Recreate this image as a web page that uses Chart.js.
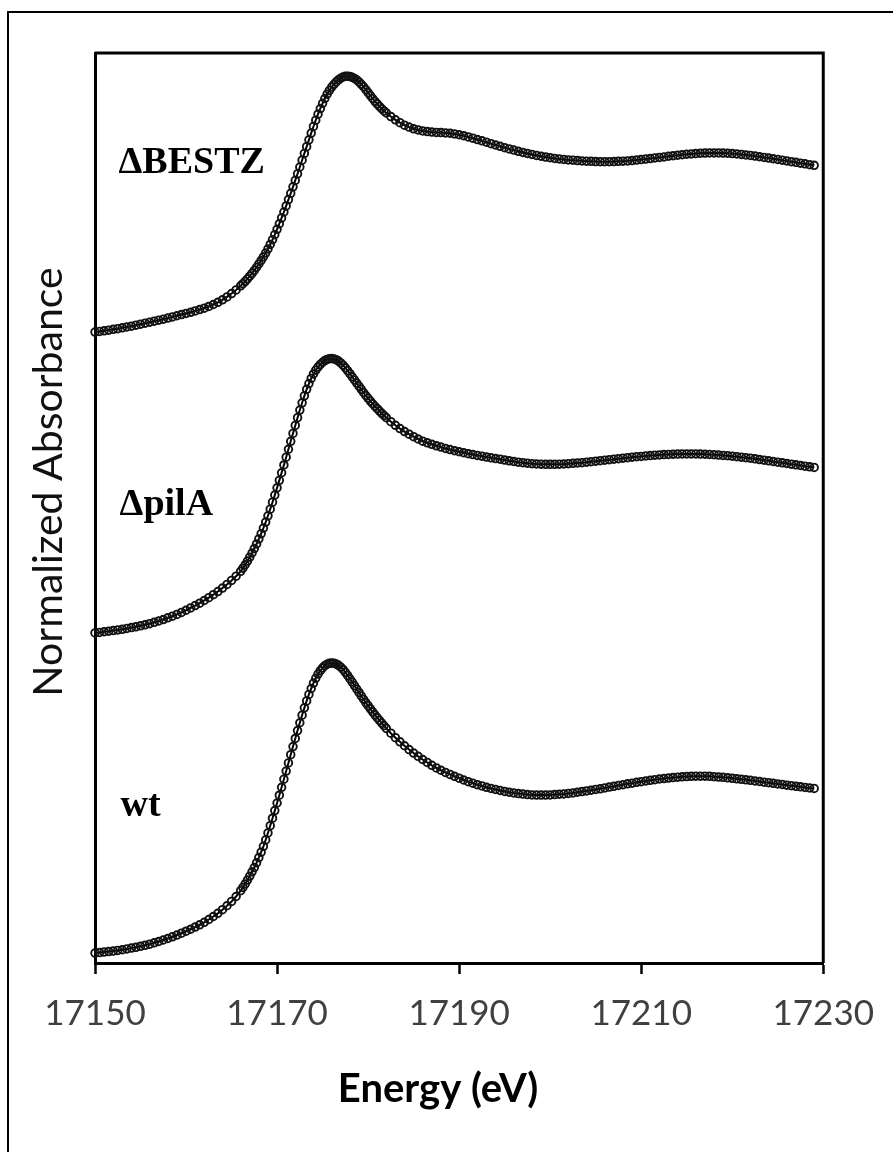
<!DOCTYPE html>
<html>
<head>
<meta charset="utf-8">
<title>XANES U L3</title>
<script src="https://cdn.jsdelivr.net/npm/chart.js@4.4.1/dist/chart.umd.min.js"></script>
<style>
  html, body { margin: 0; padding: 0; background: #fff; overflow: hidden; }
  #lienzo { position: relative; width: 893px; height: 1152px; overflow: hidden; }
  #marco { position: absolute; left: 7px; top: 11px; right: -20px; bottom: -20px;
           border-left: 2px solid #000; border-top: 2px solid #000; }
  #grafica { position: absolute; left: 0; top: 0; }
</style>
</head>
<body>
<div id="lienzo">
  <div id="marco"></div>
  <canvas id="grafica" width="893" height="1152"></canvas>
</div>
<script>
// Energía (eV): paso 0.5 antes y después del borde, 0.25 en el borde
const energia = [
  17150, 17150.5, 17151, 17151.5, 17152, 17152.5, 17153, 17153.5, 17154, 17154.5,
  17155, 17155.5, 17156, 17156.5, 17157, 17157.5, 17158, 17158.5, 17159, 17159.5,
  17160, 17160.5, 17161, 17161.5, 17162, 17162.5, 17163, 17163.5, 17164, 17164.5,
  17165, 17165.5, 17166,
  17166.25, 17166.5, 17166.75, 17167, 17167.25, 17167.5, 17167.75, 17168, 17168.25, 17168.5,
  17168.75, 17169, 17169.25, 17169.5, 17169.75, 17170, 17170.25, 17170.5, 17170.75, 17171,
  17171.25, 17171.5, 17171.75, 17172, 17172.25, 17172.5, 17172.75, 17173, 17173.25, 17173.5,
  17173.75, 17174, 17174.25, 17174.5, 17174.75, 17175, 17175.25, 17175.5, 17175.75, 17176,
  17176.25, 17176.5, 17176.75, 17177, 17177.25, 17177.5, 17177.75, 17178, 17178.25, 17178.5,
  17178.75, 17179, 17179.25, 17179.5, 17179.75, 17180, 17180.25, 17180.5, 17180.75, 17181,
  17181.25, 17181.5, 17181.75, 17182,
  17182.5, 17183, 17183.5, 17184, 17184.5, 17185, 17185.5, 17186, 17186.5, 17187,
  17187.5, 17188, 17188.5, 17189, 17189.5, 17190, 17190.5, 17191, 17191.5, 17192,
  17192.5, 17193, 17193.5, 17194, 17194.5, 17195, 17195.5, 17196, 17196.5, 17197,
  17197.5, 17198, 17198.5, 17199, 17199.5, 17200, 17200.5, 17201, 17201.5, 17202,
  17202.5, 17203, 17203.5, 17204, 17204.5, 17205, 17205.5, 17206, 17206.5, 17207,
  17207.5, 17208, 17208.5, 17209, 17209.5, 17210, 17210.5, 17211, 17211.5, 17212,
  17212.5, 17213, 17213.5, 17214, 17214.5, 17215, 17215.5, 17216, 17216.5, 17217,
  17217.5, 17218, 17218.5, 17219, 17219.5, 17220, 17220.5, 17221, 17221.5, 17222,
  17222.5, 17223, 17223.5, 17224, 17224.5, 17225, 17225.5, 17226, 17226.5, 17227,
  17227.5, 17228, 17228.5, 17229
];

// Absorbancia normalizada de cada muestra
const absWt = [
  0.060, 0.063, 0.066, 0.069, 0.072, 0.076, 0.080, 0.085, 0.090, 0.095,
  0.101, 0.107, 0.114, 0.122, 0.130, 0.139, 0.148, 0.158, 0.169, 0.180,
  0.192, 0.204, 0.217, 0.231, 0.246, 0.263, 0.281, 0.300, 0.322, 0.346,
  0.372, 0.402, 0.437,
  0.457, 0.478, 0.501, 0.525, 0.551, 0.577, 0.606, 0.637, 0.670, 0.705,
  0.744, 0.786, 0.830, 0.875, 0.921, 0.967, 1.014, 1.062, 1.111, 1.160,
  1.209, 1.259, 1.308, 1.357, 1.405, 1.452, 1.498, 1.542, 1.584, 1.623,
  1.659, 1.692, 1.721, 1.746, 1.767, 1.784, 1.797, 1.806, 1.811, 1.813,
  1.812, 1.807, 1.799, 1.788, 1.774, 1.757, 1.738, 1.718, 1.698, 1.677,
  1.656, 1.635, 1.614, 1.594, 1.574, 1.555, 1.536, 1.518, 1.500, 1.483,
  1.466, 1.450, 1.434, 1.418,
  1.389, 1.362, 1.337, 1.313, 1.290, 1.269, 1.249, 1.230, 1.212, 1.195,
  1.179, 1.165, 1.152, 1.140, 1.128, 1.117, 1.106, 1.096, 1.087, 1.078,
  1.070, 1.062, 1.055, 1.049, 1.043, 1.037, 1.032, 1.028, 1.024, 1.021,
  1.018, 1.016, 1.015, 1.015, 1.015, 1.016, 1.018, 1.020, 1.022, 1.025,
  1.028, 1.032, 1.036, 1.040, 1.044, 1.049, 1.053, 1.058, 1.063, 1.068,
  1.073, 1.078, 1.083, 1.087, 1.092, 1.096, 1.100, 1.104, 1.108, 1.112,
  1.115, 1.118, 1.121, 1.123, 1.125, 1.127, 1.128, 1.129, 1.129, 1.129,
  1.128, 1.126, 1.124, 1.122, 1.119, 1.116, 1.113, 1.110, 1.107, 1.104,
  1.100, 1.097, 1.093, 1.090, 1.086, 1.082, 1.079, 1.075, 1.072, 1.068,
  1.065, 1.061, 1.058, 1.055
];

const absPilA = [
  0.060, 0.063, 0.067, 0.070, 0.074, 0.078, 0.082, 0.087, 0.092, 0.097,
  0.103, 0.109, 0.116, 0.124, 0.132, 0.141, 0.151, 0.161, 0.172, 0.184,
  0.197, 0.211, 0.225, 0.240, 0.256, 0.273, 0.291, 0.310, 0.331, 0.353,
  0.377, 0.403, 0.432,
  0.451, 0.472, 0.494, 0.518, 0.543, 0.570, 0.598, 0.628, 0.660, 0.694,
  0.730, 0.768, 0.808, 0.850, 0.893, 0.937, 0.982, 1.028, 1.075, 1.122,
  1.170, 1.218, 1.266, 1.314, 1.361, 1.407, 1.451, 1.493, 1.532, 1.567,
  1.598, 1.625, 1.648, 1.667, 1.683, 1.696, 1.706, 1.713, 1.717, 1.718,
  1.716, 1.711, 1.703, 1.692, 1.678, 1.662, 1.645, 1.627, 1.608, 1.589,
  1.570, 1.551, 1.532, 1.513, 1.495, 1.478, 1.461, 1.445, 1.430, 1.415,
  1.401, 1.387, 1.374, 1.361,
  1.337, 1.315, 1.295, 1.277, 1.261, 1.246, 1.232, 1.219, 1.209, 1.200,
  1.191, 1.183, 1.175, 1.168, 1.161, 1.155, 1.149, 1.143, 1.138, 1.133,
  1.128, 1.123, 1.118, 1.114, 1.110, 1.105, 1.100, 1.096, 1.092, 1.089,
  1.086, 1.083, 1.081, 1.080, 1.079, 1.079, 1.079, 1.080, 1.081, 1.083,
  1.085, 1.087, 1.089, 1.092, 1.095, 1.098, 1.101, 1.104, 1.107, 1.110,
  1.113, 1.116, 1.119, 1.122, 1.125, 1.127, 1.130, 1.132, 1.134, 1.136,
  1.138, 1.139, 1.140, 1.141, 1.142, 1.142, 1.142, 1.142, 1.141, 1.140,
  1.139, 1.137, 1.135, 1.133, 1.131, 1.128, 1.125, 1.122, 1.119, 1.116,
  1.112, 1.108, 1.104, 1.100, 1.096, 1.092, 1.088, 1.084, 1.080, 1.076,
  1.072, 1.068, 1.064, 1.060
];

const absBestz = [
  0.060, 0.064, 0.068, 0.072, 0.077, 0.081, 0.086, 0.091, 0.096, 0.102,
  0.108, 0.114, 0.120, 0.126, 0.132, 0.138, 0.145, 0.152, 0.159, 0.166,
  0.173, 0.180, 0.188, 0.196, 0.205, 0.215, 0.227, 0.240, 0.255, 0.273,
  0.293, 0.315, 0.340,
  0.353, 0.367, 0.382, 0.398, 0.415, 0.433, 0.452, 0.472, 0.493, 0.515,
  0.538, 0.563, 0.590, 0.619, 0.649, 0.681, 0.715, 0.750, 0.786, 0.823,
  0.861, 0.899, 0.938, 0.977, 1.017, 1.058, 1.099, 1.140, 1.181, 1.222,
  1.263, 1.303, 1.341, 1.377, 1.411, 1.443, 1.472, 1.498, 1.521, 1.541,
  1.558, 1.573, 1.585, 1.595, 1.602, 1.606, 1.607, 1.605, 1.600, 1.593,
  1.584, 1.572, 1.558, 1.543, 1.526, 1.508, 1.490, 1.472, 1.455, 1.439,
  1.424, 1.410, 1.397, 1.385,
  1.363, 1.343, 1.326, 1.311, 1.299, 1.289, 1.282, 1.276, 1.272, 1.269,
  1.267, 1.266, 1.264, 1.262, 1.258, 1.253, 1.247, 1.240, 1.232, 1.224,
  1.216, 1.208, 1.199, 1.191, 1.183, 1.175, 1.167, 1.160, 1.153, 1.146,
  1.140, 1.134, 1.128, 1.123, 1.118, 1.114, 1.110, 1.107, 1.104, 1.101,
  1.099, 1.097, 1.095, 1.093, 1.092, 1.091, 1.090, 1.090, 1.090, 1.091,
  1.092, 1.093, 1.095, 1.097, 1.100, 1.103, 1.106, 1.109, 1.113, 1.116,
  1.119, 1.123, 1.126, 1.129, 1.132, 1.135, 1.137, 1.139, 1.141, 1.142,
  1.143, 1.143, 1.143, 1.142, 1.141, 1.139, 1.137, 1.134, 1.131, 1.128,
  1.124, 1.120, 1.116, 1.112, 1.108, 1.104, 1.099, 1.095, 1.090, 1.086,
  1.081, 1.077, 1.072, 1.068
];

const muestras = ["wt", "ΔpilA", "ΔBESTZ"];
const desplazamientos = [0, 1.935, 3.753];
const ticksEnergia = [17150, 17170, 17190, 17210, 17230];

// Marco superior/derecho del área de trazado, títulos de ejes y nombres de muestras
const decoraciones = {
  id: "decoraciones",
  afterDraw(chart) {
    const { ctx, chartArea: area, scales } = chart;
    ctx.save();
    ctx.strokeStyle = "#000";
    ctx.lineWidth = 3;
    ctx.beginPath();
    ctx.moveTo(area.left, area.top);
    ctx.lineTo(area.right, area.top);
    ctx.lineTo(area.right, area.bottom);
    ctx.stroke();

    ctx.fillStyle = "#000";
    ctx.font = "bold 38px 'Liberation Serif'";
    ctx.textAlign = "left";
    ctx.textBaseline = "alphabetic";
    const posiciones = [[17152.8, 0.888], [17152.7, 2.708], [17152.58, 4.775]];
    muestras.forEach((nombre, i) => {
      ctx.fillText(nombre,
        scales.x.getPixelForValue(posiciones[i][0]),
        scales.y.getPixelForValue(posiciones[i][1]));
    });

    ctx.font = "bold 40px Lato";
    ctx.textAlign = "center";
    ctx.fillText("Energy (eV)", 438, 1102);

    ctx.translate(62, 482);
    ctx.rotate(-Math.PI / 2);
    ctx.font = "41px Lato";
    ctx.fillStyle = "#111";
    ctx.fillText("Normalized Absorbance", 0, 0);
    ctx.restore();
  },
};

const $grafica = document.querySelector("#grafica");
const series = [absWt, absPilA, absBestz];

new Chart($grafica, {
  type: "scatter",
  data: {
    datasets: series.map((valores, i) => ({
      label: muestras[i],
      data: energia.map((e, j) => ({ x: e, y: valores[j] + desplazamientos[i] })),
      showLine: true,
      borderColor: "#000",
      borderWidth: 2,
      pointRadius: 3.8,
      pointBorderWidth: 1.9,
      pointBorderColor: "#111",
      pointBackgroundColor: "rgba(0,0,0,0)",
      clip: false,
    })),
  },
  options: {
    responsive: false,
    animation: false,
    layout: { padding: { left: 0, top: 53, right: 63, bottom: 0 } },
    scales: {
      x: {
        type: "linear",
        min: 17150,
        max: 17230,
        afterBuildTicks: (escala) => {
          escala.ticks = ticksEnergia.map((v) => ({ value: v }));
        },
        afterFit: (escala) => {
          escala.height = 189;
        },
        ticks: {
          autoSkip: false,
          maxRotation: 0,
          padding: 19,
          color: "#404040",
          font: { family: "Lato", size: 35 },
          callback: (v) => String(v),
        },
        grid: {
          drawOnChartArea: false,
          tickLength: 11,
          tickWidth: 2.5,
          tickColor: "#000",
        },
        border: { color: "#000", width: 3 },
      },
      y: {
        min: 0,
        max: 5.5,
        afterFit: (escala) => {
          escala.width = 95;
        },
        ticks: { display: false },
        grid: { display: false },
        border: { color: "#000", width: 3 },
      },
    },
    plugins: {
      legend: { display: false },
      tooltip: { enabled: false },
    },
  },
  plugins: [decoraciones],
});
</script>
</body>
</html>
